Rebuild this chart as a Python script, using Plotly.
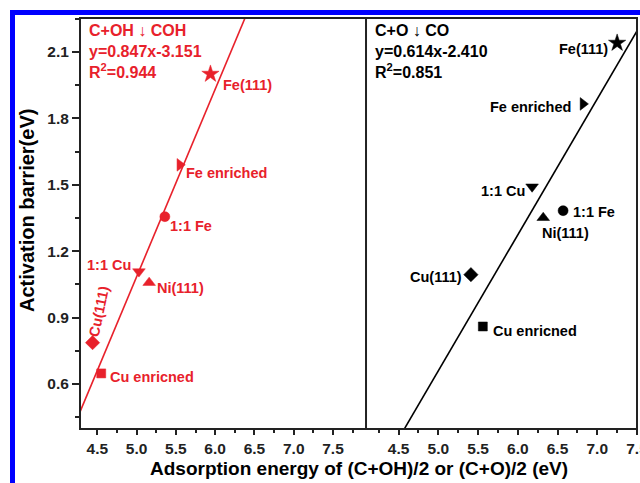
import numpy as np
import plotly.graph_objects as go

# ---------------- data ----------------
surfaces = ["Fe(111)", "Fe enriched", "1:1 Fe", "1:1 Cu", "Ni(111)", "Cu(111)", "Cu enricned"]
symbols = ["star", "triangle-right", "circle", "triangle-down", "triangle-up", "diamond", "square"]

# C+OH -> COH
coh_x = [5.94, 5.55, 5.36, 5.03, 5.16, 4.44, 4.55]
coh_y = [2.00, 1.59, 1.356, 1.108, 1.058, 0.787, 0.648]
coh_slope, coh_icpt = 0.847, -3.151
coh_r2 = 0.944

# C+O -> CO
co_x = [7.25, 6.82, 6.57, 6.18, 6.32, 5.41, 5.56]
co_y = [2.14, 1.865, 1.383, 1.491, 1.351, 1.094, 0.860]
co_slope, co_icpt = 0.614, -2.410
co_r2 = 0.851

x_ticks = [4.5, 5.0, 5.5, 6.0, 6.5, 7.0, 7.5]
y_ticks = [0.6, 0.9, 1.2, 1.5, 1.8, 2.1]

# ---------------- style ----------------
RED = "#e8212b"
BLACK = "#000000"
AX = "#222222"
FONT = "Arial, Liberation Sans, sans-serif"
W, H = 640, 483
ML, MR, MT, MB = 80, 3, 18, 54
split = 0.5135

x1_range = [4.28, 7.92]
x2_range = [4.09, 7.5]
y_range = [0.397, 2.253]

sizes = {"star": 13, "triangle-right": 11, "circle": 10, "triangle-down": 11,
         "triangle-up": 11, "diamond": 11, "square": 9}

# label offsets (pixels) relative to each point: (xanchor, xshift, yshift, angle)
coh_lab = {
    "Fe(111)": ("left", 11, -11, 0),
    "Fe enriched": ("left", 4, -8, 0),
    "1:1 Fe": ("left", 3, -9, 0),
    "1:1 Cu": ("right", -6, 7, 0),
    "Ni(111)": ("left", 6, -5, 0),
    "Cu(111)": ("center", 6, 31, -78),
    "Cu enricned": ("left", 7, -4, 0),
}
co_lab = {
    "Fe(111)": ("right", -7, -6, 0),
    "Fe enriched": ("right", -10, -3, 0),
    "1:1 Fe": ("left", 8, -1, 0),
    "1:1 Cu": ("right", -5, -4, 0),
    "Ni(111)": ("left", -3, -15, 0),
    "Cu(111)": ("right", -7, -2, 0),
    "Cu enricned": ("left", 8, -5, 0),
}

fig = go.Figure()

# fit lines
for xr, slope, icpt, col, xa in [(x1_range, coh_slope, coh_icpt, RED, "x"),
                                  (x2_range, co_slope, co_icpt, BLACK, "x2")]:
    xs = np.array(xr)
    fig.add_trace(go.Scatter(x=xs, y=slope * xs + icpt, mode="lines",
                             line=dict(color=col, width=1.6), xaxis=xa, yaxis="y",
                             showlegend=False, hoverinfo="skip"))

# markers
for xs, ys, col, xa in [(coh_x, coh_y, RED, "x"), (co_x, co_y, BLACK, "x2")]:
    fig.add_trace(go.Scatter(x=xs, y=ys, mode="markers", xaxis=xa, yaxis="y",
                             marker=dict(symbol=symbols, color=col, opacity=1,
                                         size=[sizes[s] for s in symbols],
                                         line=dict(width=0.5, color=col)),
                             text=surfaces, showlegend=False))

annotations = []
for xs, ys, col, xr, labs in [(coh_x, coh_y, RED, "x", coh_lab), (co_x, co_y, BLACK, "x2", co_lab)]:
    for name, xv, yv in zip(surfaces, xs, ys):
        anc, dx, dy, ang = labs[name]
        annotations.append(dict(x=xv, y=yv, xref=xr, yref="y", text=name, showarrow=False,
                                xanchor=anc, yanchor="middle", xshift=dx, yshift=dy,
                                textangle=ang,
                                font=dict(family=FONT, size=14.5, color=col, weight="bold")))

# equation blocks
annotations.append(dict(xref="x domain", yref="y domain", x=0.025, y=0.995,
                        xanchor="left", yanchor="top", align="left", showarrow=False,
                        text=f"C+OH \u2193 COH<br>y={coh_slope:.3f}x{coh_icpt:.3f}<br>R<sup>2</sup>={coh_r2:.3f}",
                        font=dict(family=FONT, size=16, color=RED, weight="bold")))
annotations.append(dict(xref="x2 domain", yref="y domain", x=0.025, y=0.995,
                        xanchor="left", yanchor="top", align="left", showarrow=False,
                        text=f"C+O \u2193 CO<br>y={co_slope:.3f}x{co_icpt:.3f}<br>R<sup>2</sup>={co_r2:.3f}",
                        font=dict(family=FONT, size=16, color=BLACK, weight="bold")))

pw, ph = W - ML - MR, H - MT - MB
def px(xp):
    return (xp - ML) / pw
def py(yp):
    return (H - MB - yp) / ph

# axis titles
annotations.append(dict(xref="paper", yref="paper", x=px(359), y=py(468),
                        xanchor="center", yanchor="middle", showarrow=False,
                        text="Adsorption energy of (C+OH)/2 or (C+O)/2 (eV)",
                        font=dict(family=FONT, size=19, color=BLACK, weight="bold")))
annotations.append(dict(xref="paper", yref="paper", x=px(27), y=py(211),
                        xanchor="center", yanchor="middle", showarrow=False, textangle=-90,
                        text="Activation barrier(eV)",
                        font=dict(family=FONT, size=20, color=BLACK, weight="bold")))

# frames and divider
shapes = [
    dict(type="rect", xref="paper", yref="paper", x0=0, x1=1, y0=0, y1=1,
         line=dict(color=AX, width=2)),
    dict(type="line", xref="paper", yref="paper", x0=split, x1=split, y0=0, y1=1,
         line=dict(color=AX, width=2)),
]
# decorative blue border
shapes.append(dict(type="rect", xref="paper", yref="paper", x0=px(10), x1=px(15), y0=py(10), y1=py(490),
                   fillcolor="#0000ff", line=dict(width=0), layer="above"))
shapes.append(dict(type="rect", xref="paper", yref="paper", x0=px(10), x1=px(650), y0=py(10), y1=py(15),
                   fillcolor="#0000ff", line=dict(width=0), layer="above"))

tickfont = dict(family=FONT, size=15.5, color=AX, weight="bold")
xcommon = dict(tickvals=x_ticks, ticktext=[f"{v:.1f}" for v in x_ticks], ticks="outside",
               ticklen=5, tickwidth=1.5, tickcolor=AX, showgrid=False, zeroline=False,
               showline=False, tickfont=tickfont, automargin=False, ticklabeloverflow="allow",
               minor=dict(dtick=0.25, tick0=4.5, ticks="outside", ticklen=3, tickwidth=1.5, tickcolor=AX))

fig.update_layout(
    width=W, height=H, margin=dict(l=ML, r=MR, t=MT, b=MB, autoexpand=False),
    paper_bgcolor="white", plot_bgcolor="white",
    xaxis=dict(domain=[0, split], range=x1_range, anchor="y", **xcommon),
    xaxis2=dict(domain=[split, 1], range=x2_range, anchor="y", **xcommon),
    yaxis=dict(range=y_range, tickvals=y_ticks, ticktext=[f"{v:.1f}" for v in y_ticks],
               ticks="outside", ticklen=7, tickwidth=1.5, tickcolor=AX, showgrid=False,
               zeroline=False, showline=False, tickfont=tickfont, automargin=False,
               minor=dict(dtick=0.15, tick0=0.6, ticks="outside", ticklen=4, tickwidth=1.5, tickcolor=AX)),
    annotations=annotations, shapes=shapes, showlegend=False,
)

fig.write_html("out.html")
